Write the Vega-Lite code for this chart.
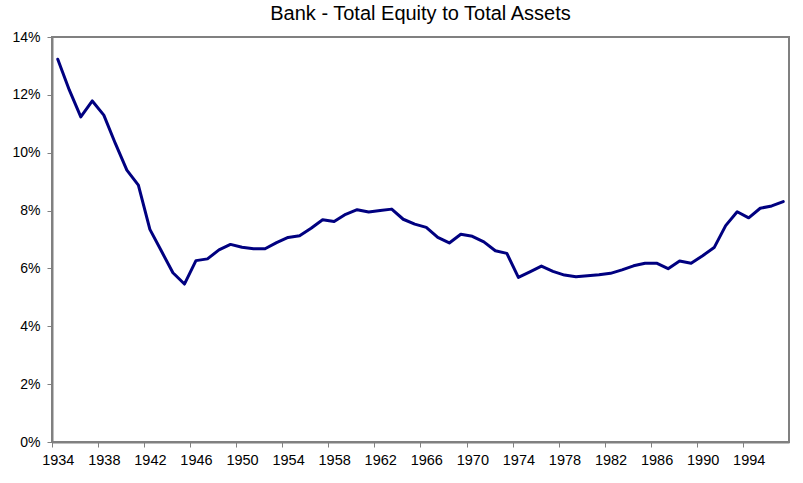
{
  "$schema": "https://vega.github.io/schema/vega-lite/v6.json",
  "width": 737,
  "height": 405,
  "autosize": {"type": "none"},
  "padding": {"left": 52, "top": 37, "right": 14, "bottom": 41},
  "background": "white",
  "title": {
    "text": "Bank - Total Equity to Total Assets",
    "font": "Liberation Sans",
    "fontSize": 20,
    "fontWeight": "normal",
    "color": "#000000",
    "anchor": "middle",
    "offset": 6
  },
  "config": {
    "view": {"stroke": "#808080", "strokeWidth": 2},
    "axis": {
      "labelFont": "Liberation Sans",
      "labelFontSize": 14,
      "labelColor": "#000000",
      "domainColor": "#808080",
      "tickColor": "#808080",
      "grid": false,
      "title": null
    }
  },
  "data": {
    "values": [
      {"year": 1934, "ratio": 13.23},
      {"year": 1935, "ratio": 12.17},
      {"year": 1936, "ratio": 11.24},
      {"year": 1937, "ratio": 11.79},
      {"year": 1938, "ratio": 11.30},
      {"year": 1939, "ratio": 10.32},
      {"year": 1940, "ratio": 9.40},
      {"year": 1941, "ratio": 8.88},
      {"year": 1942, "ratio": 7.35},
      {"year": 1943, "ratio": 6.60},
      {"year": 1944, "ratio": 5.85},
      {"year": 1945, "ratio": 5.46},
      {"year": 1946, "ratio": 6.27},
      {"year": 1947, "ratio": 6.33},
      {"year": 1948, "ratio": 6.64},
      {"year": 1949, "ratio": 6.83},
      {"year": 1950, "ratio": 6.73},
      {"year": 1951, "ratio": 6.68},
      {"year": 1952, "ratio": 6.68},
      {"year": 1953, "ratio": 6.89},
      {"year": 1954, "ratio": 7.07},
      {"year": 1955, "ratio": 7.13},
      {"year": 1956, "ratio": 7.39},
      {"year": 1957, "ratio": 7.68},
      {"year": 1958, "ratio": 7.62},
      {"year": 1959, "ratio": 7.87},
      {"year": 1960, "ratio": 8.03},
      {"year": 1961, "ratio": 7.95},
      {"year": 1962, "ratio": 8.00},
      {"year": 1963, "ratio": 8.05},
      {"year": 1964, "ratio": 7.70},
      {"year": 1965, "ratio": 7.53},
      {"year": 1966, "ratio": 7.42},
      {"year": 1967, "ratio": 7.07},
      {"year": 1968, "ratio": 6.88},
      {"year": 1969, "ratio": 7.18},
      {"year": 1970, "ratio": 7.11},
      {"year": 1971, "ratio": 6.92},
      {"year": 1972, "ratio": 6.61},
      {"year": 1973, "ratio": 6.52},
      {"year": 1974, "ratio": 5.69},
      {"year": 1975, "ratio": 5.88},
      {"year": 1976, "ratio": 6.08},
      {"year": 1977, "ratio": 5.90},
      {"year": 1978, "ratio": 5.77},
      {"year": 1979, "ratio": 5.71},
      {"year": 1980, "ratio": 5.75},
      {"year": 1981, "ratio": 5.78},
      {"year": 1982, "ratio": 5.83},
      {"year": 1983, "ratio": 5.95},
      {"year": 1984, "ratio": 6.09},
      {"year": 1985, "ratio": 6.18},
      {"year": 1986, "ratio": 6.18},
      {"year": 1987, "ratio": 5.99},
      {"year": 1988, "ratio": 6.26},
      {"year": 1989, "ratio": 6.18},
      {"year": 1990, "ratio": 6.44},
      {"year": 1991, "ratio": 6.72},
      {"year": 1992, "ratio": 7.48},
      {"year": 1993, "ratio": 7.96},
      {"year": 1994, "ratio": 7.75},
      {"year": 1995, "ratio": 8.08},
      {"year": 1996, "ratio": 8.16},
      {"year": 1997, "ratio": 8.31}
    ]
  },
  "mark": {"type": "line", "color": "#000080", "strokeWidth": 3, "strokeJoin": "round", "strokeCap": "round"},
  "encoding": {
    "x": {
      "field": "year",
      "type": "quantitative",
      "scale": {"domain": [1933.5, 1997.5], "nice": false, "zero": false},
      "axis": {
        "values": [1934, 1938, 1942, 1946, 1950, 1954, 1958, 1962, 1966, 1970, 1974, 1978, 1982, 1986, 1990, 1994],
        "format": "d",
        "labelFontSize": 14.5,
        "tickOffset": -5.76,
        "labelOffset": 5.76,
        "tickSize": 5,
        "labelPadding": 6,
        "domainWidth": 2,
        "labelFlush": false
      }
    },
    "y": {
      "field": "ratio",
      "type": "quantitative",
      "scale": {"domain": [0, 14], "nice": false},
      "axis": {
        "values": [0, 2, 4, 6, 8, 10, 12, 14],
        "labelExpr": "datum.value + '%'",
        "tickSize": 5,
        "labelPadding": 7,
        "domainWidth": 2,
        "labelFlush": false
      }
    }
  }
}
